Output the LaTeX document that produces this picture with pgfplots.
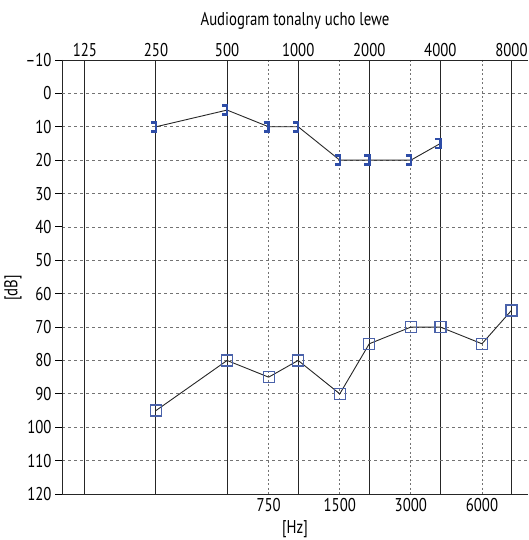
\documentclass[border=0pt]{standalone}
\usepackage{fontspec}
\setmainfont{PT Sans}[FakeStretch=0.8]
\usepackage{pgfplots}
\pgfplotsset{compat=1.18}
\definecolor{bcblue}{HTML}{2E4DA7}
\definecolor{acblue}{HTML}{4A62AA}
\pgfdeclareplotmark{bracket}{%
  \pgfpathmoveto{\pgfqpoint{-5pt}{4.5pt}}%
  \pgfpathlineto{\pgfqpoint{0pt}{4.5pt}}%
  \pgfpathlineto{\pgfqpoint{0pt}{-4.5pt}}%
  \pgfpathlineto{\pgfqpoint{-5pt}{-4.5pt}}%
  \pgfusepathqstroke}
\begin{document}
\begin{tikzpicture}[font=\fontsize{18.5}{22}\selectfont]
\path[use as bounding box] (0pt,0pt) rectangle (528pt,540pt);
% half-octave grid and bottom labels
\begin{axis}[
  scale only axis, width=466pt, height=434pt,
  at={(62pt,46pt)}, anchor=south west,
  xmode=log, xmin=100, xmax=9400,
  ymin=-10, ymax=120, y dir=reverse,
  /pgf/number format/assume math mode=true,
  xtick={750,1500,3000,6000},
  xticklabels={750,1500,3000,6000},
  xticklabel style={yshift=-1pt},
  xmajorgrids,
  grid style={gray!90!black, line width=0.8pt, dash pattern=on 2pt off 2.5pt},
  ytick=\empty,
  axis line style={draw=none},
  xtick style={draw=none},
  xlabel={[Hz]},
  xlabel style={yshift=-2pt},
]
\end{axis}
% main axis
\begin{axis}[
  scale only axis, width=466pt, height=434pt,
  at={(62pt,46pt)}, anchor=south west,
  xmode=log, xmin=100, xmax=9400,
  ymin=-10, ymax=120, y dir=reverse,
  /pgf/number format/assume math mode=true,
  axis x line*=box, axis y line*=left,
  axis line style={black!85, line width=0.9pt},
  xtick={125,250,500,1000,2000,4000,8000},
  xticklabels={125,250,500,1000,2000,4000,8000},
  xticklabel pos=upper,
  xtick style={draw=none},
  xmajorgrids,
  x grid style={black!85, line width=1pt},
  ytick={-10,0,10,20,30,40,50,60,70,80,90,100,110,120},
  yticklabels={–10,0,10,20,30,40,50,60,70,80,90,100,110,120},
  ymajorgrids,
  y grid style={gray!90!black, line width=0.8pt, dash pattern=on 3pt off 3pt},
  ytick style={black, line width=0.9pt},
  ytick align=outside, major tick length=7pt,
  extra y ticks={0}, extra y tick labels={},
  extra y tick style={grid style={solid, black!60, line width=1.6pt}, ytick style={draw=none}},
  title={Audiogram tonalny ucho lewe},
  title style={yshift=21pt},
  ylabel={[dB]},
  ylabel style={at={(axis description cs:-0.105,0.475)}, anchor=center},
]
\addplot[black!85, line width=0.9pt, mark=bracket,
  mark options={bcblue, line width=2.5pt, solid}]
  coordinates {(250,10) (500,5) (750,10) (1000,10) (1500,20) (2000,20) (3000,20) (4000,15)};
\addplot[black!85, line width=0.9pt, mark=square,
  mark size=5.5pt, mark options={acblue, line width=1.3pt, fill=none, solid}]
  coordinates {(250,95) (500,80) (750,85) (1000,80) (1500,90) (2000,75) (3000,70) (4000,70) (6000,75) (8000,65)};
\end{axis}
\end{tikzpicture}
\end{document}
